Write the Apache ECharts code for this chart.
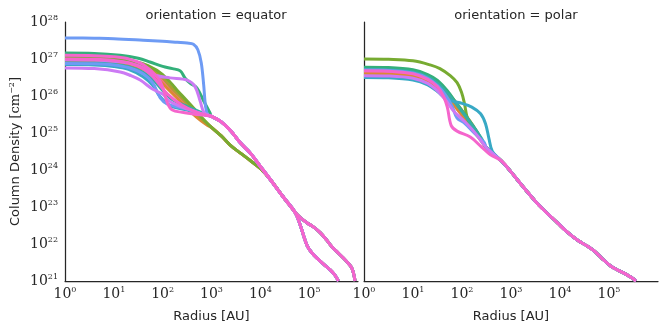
<!DOCTYPE html>
<html>
<head>
<meta charset="utf-8">
<script src="https://cdn.jsdelivr.net/npm/echarts@6/dist/echarts.min.js"></script>
<style>
  html, body { margin: 0; padding: 0; background: #fff; }
  #main { width: 665px; height: 334px; }
</style>
</head>
<body>
<div id="main"></div>
<script>
// husl palette, 10 hues
var palette = ['#f77189', '#dc8932', '#ae9d31', '#77ab31', '#33b07a', '#36ada4', '#38a9c5', '#6e9bf4', '#cc7af4', '#f565cc'];

// all points as [log10 radius, log10 column density]
// orientation = equator
var equatorColors = [0, 1, 2, 3, 4, 5, 6, 7, 7, 8, 8, 9, 9];
var equatorMid = ['low', 'low', 'low', 'low', 'high', 'high', 'high', 'high', 'high', 'high', 'high', 'high', 'high'];
var equatorBranch = ['up', 'low', 'up', 'low', 'up', 'up', 'low', 'low', 'low', 'low', 'up', 'low', 'up'];
var equatorHeads = [
  [[0, 27.0], [0.6, 26.99], [1.0, 26.96], [1.3, 26.91], [1.6, 26.8], [1.8, 26.64], [2.0, 26.4], [2.3, 26.0], [2.6, 25.6], [2.85, 25.32]],
  [[0, 26.95], [0.6, 26.94], [1.0, 26.91], [1.3, 26.85], [1.6, 26.72], [1.8, 26.56], [2.1, 26.2], [2.4, 25.8], [2.7, 25.42], [2.9, 25.22]],
  [[0, 27.02], [0.6, 27.01], [1.0, 26.98], [1.3, 26.93], [1.6, 26.84], [1.9, 26.62], [2.2, 26.2], [2.5, 25.8], [2.8, 25.38]],
  [[0, 27.05], [0.6, 27.04], [1.0, 27.01], [1.4, 26.94], [1.7, 26.82], [2.0, 26.58], [2.3, 26.15], [2.6, 25.72], [2.85, 25.35]],
  [[0, 27.16], [0.6, 27.15], [1.13, 27.1], [1.5, 27.02], [1.74, 26.92], [2.0, 26.8], [2.2, 26.74], [2.36, 26.68], [2.46, 26.48], [2.56, 26.35], [2.7, 26.22], [2.83, 25.89], [2.97, 25.54]],
  [[0, 26.9], [0.6, 26.89], [1.0, 26.86], [1.3, 26.79], [1.6, 26.64], [1.8, 26.45], [2.0, 26.15], [2.2, 25.9], [2.5, 25.72], [2.8, 25.55]],
  [[0, 26.85], [0.6, 26.84], [1.0, 26.8], [1.3, 26.72], [1.6, 26.52], [1.8, 26.28], [1.95, 25.98], [2.15, 25.74], [2.5, 25.62], [2.85, 25.5]],
  [[0, 27.57], [0.6, 27.56], [1.0, 27.55], [1.6, 27.51], [2.0, 27.48], [2.3, 27.45], [2.5, 27.43], [2.63, 27.4], [2.72, 27.25], [2.79, 26.9], [2.84, 26.3], [2.88, 25.7], [2.93, 25.48]],
  [[0, 26.88], [0.6, 26.87], [1.0, 26.84], [1.3, 26.77], [1.6, 26.6], [1.8, 26.35], [1.95, 25.95], [2.1, 25.78], [2.5, 25.65], [2.85, 25.5]],
  [[0, 26.76], [0.6, 26.74], [1.13, 26.65], [1.35, 26.55], [1.54, 26.43], [1.8, 26.18], [2.0, 26.05], [2.15, 25.85], [2.5, 25.65], [2.85, 25.5]],
  [[0, 26.98], [0.6, 26.97], [1.0, 26.94], [1.3, 26.89], [1.6, 26.76], [1.85, 26.56], [2.15, 26.49], [2.5, 26.43], [2.66, 26.26], [2.77, 25.85], [2.85, 25.55]],
  [[0, 27.1], [0.6, 27.09], [1.0, 27.06], [1.3, 27.0], [1.6, 26.85], [1.89, 26.51], [2.0, 26.24], [2.1, 25.8], [2.2, 25.62], [2.4, 25.56], [2.7, 25.5], [2.9, 25.47]],
  [[0, 27.0], [0.6, 26.99], [1.0, 26.96], [1.3, 26.9], [1.6, 26.74], [1.8, 26.52], [2.1, 26.05], [2.4, 25.75], [2.7, 25.56], [2.9, 25.48]]
];
var equatorTailHigh = [[3.0, 25.45], [3.2, 25.3], [3.4, 25.05], [3.6, 24.72], [3.8, 24.45], [4.0, 24.1]];
var equatorTailLow = [[3.0, 25.15], [3.2, 24.92], [3.4, 24.65], [3.6, 24.45], [3.8, 24.25], [4.0, 24.04]];
var equatorTail = [[4.2, 23.75], [4.47, 23.27], [4.71, 22.86]];
var equatorUpper = [[4.83, 22.7], [4.96, 22.57], [5.1, 22.45], [5.23, 22.3], [5.35, 22.12], [5.47, 21.92], [5.6, 21.75], [5.7, 21.62], [5.8, 21.48], [5.88, 21.33], [5.94, 21.0]];
var equatorLower = [[4.82, 22.5], [4.88, 22.25], [4.96, 21.95], [5.05, 21.77], [5.16, 21.62], [5.3, 21.45], [5.43, 21.3], [5.52, 21.17], [5.6, 21.0]];

// orientation = polar
var polarColors = [0, 1, 2, 3, 4, 5, 6, 7, 8, 9];
var polarHeads = [
  [[0, 26.65], [0.5, 26.64], [1.0, 26.58], [1.3, 26.45], [1.5, 26.28], [1.7, 26.02], [1.9, 25.65], [2.1, 25.28], [2.3, 24.95]],
  [[0, 26.6], [0.5, 26.59], [1.0, 26.53], [1.3, 26.4], [1.5, 26.22], [1.7, 25.96], [1.9, 25.65], [2.1, 25.35], [2.3, 25.0]],
  [[0, 26.7], [0.5, 26.69], [1.0, 26.63], [1.3, 26.5], [1.5, 26.34], [1.7, 26.1], [1.95, 25.7], [2.2, 25.25], [2.4, 24.8]],
  [[0, 27.0], [0.5, 26.99], [1.0, 26.95], [1.35, 26.84], [1.55, 26.74], [1.76, 26.55], [1.9, 26.36], [1.99, 26.1], [2.05, 25.8], [2.1, 25.45], [2.2, 25.1], [2.4, 24.8]],
  [[0, 26.78], [0.5, 26.77], [1.0, 26.71], [1.3, 26.58], [1.5, 26.42], [1.7, 26.14], [1.9, 25.78], [2.1, 25.42], [2.3, 25.05]],
  [[0, 26.72], [0.5, 26.71], [1.0, 26.65], [1.3, 26.52], [1.5, 26.35], [1.7, 26.08], [2.0, 25.58], [2.2, 25.22], [2.4, 24.85]],
  [[0, 26.5], [0.5, 26.49], [1.0, 26.43], [1.3, 26.3], [1.5, 26.12], [1.65, 25.95], [1.8, 25.86], [2.0, 25.8], [2.2, 25.7], [2.38, 25.52], [2.48, 25.25], [2.55, 24.85], [2.62, 24.5]],
  [[0, 26.7], [0.5, 26.69], [1.0, 26.62], [1.3, 26.48], [1.5, 26.28], [1.65, 26.05], [1.8, 25.72], [1.9, 25.4], [2.05, 25.27], [2.25, 25.0], [2.45, 24.75]],
  [[0, 26.55], [0.5, 26.54], [1.0, 26.48], [1.3, 26.34], [1.5, 26.14], [1.65, 25.92], [1.85, 25.56], [2.1, 25.25], [2.3, 24.95]],
  [[0, 26.68], [0.5, 26.67], [1.0, 26.6], [1.3, 26.45], [1.5, 26.25], [1.62, 26.0], [1.7, 25.7], [1.78, 25.2], [1.9, 25.05], [2.17, 24.89], [2.4, 24.62], [2.58, 24.41]]
];
var polarTail = [[2.5, 24.6], [2.8, 24.25], [3.0, 23.95], [3.2, 23.62], [3.34, 23.4], [3.5, 23.15], [3.67, 22.92], [3.95, 22.57], [4.15, 22.32], [4.36, 22.1], [4.55, 21.95], [4.69, 21.82], [4.85, 21.62], [5.04, 21.4], [5.2, 21.28], [5.35, 21.18], [5.45, 21.1], [5.55, 21.0]];

function joinLine(head, tail) {
  var last = head[head.length - 1][0];
  return head.concat(tail.filter(function (p) { return p[0] > last; }))
    .map(function (p) { return [Math.pow(10, p[0]), Math.pow(10, p[1])]; });
}

var series = [];
equatorHeads.forEach(function (head, i) {
  var mid = equatorMid[i] === 'high' ? equatorTailHigh : equatorTailLow;
  var tail = mid.concat(equatorTail, equatorBranch[i] === 'up' ? equatorUpper : equatorLower);
  series.push({
    type: 'line', xAxisIndex: 0, yAxisIndex: 0,
    data: joinLine(head, tail),
    showSymbol: false, smooth: 0.35,
    lineStyle: { width: 3, color: palette[equatorColors[i]] }
  });
});
polarHeads.forEach(function (head, i) {
  series.push({
    type: 'line', xAxisIndex: 1, yAxisIndex: 1,
    data: joinLine(head, polarTail),
    showSymbol: false, smooth: 0.35,
    lineStyle: { width: 3, color: palette[polarColors[i]] }
  });
});

var ink = '#262626';
var powRich = {
  b: { fontFamily: 'DejaVu Serif', fontSize: 14, color: ink },
  s: { fontFamily: 'DejaVu Serif', fontSize: 8, color: ink, padding: [0, 0, 8, 0] }
};
function powLabel(v) {
  var e = Math.round(Math.log10(v));
  return '{b|10}{s|' + e + '}';
}
function xLabel(v) {
  var e = Math.round(Math.log10(v));
  if (e > 5) return '';
  return powLabel(v);
}

function xAxis(idx) {
  return {
    type: 'log', logBase: 10, min: 1, max: 1e6, gridIndex: idx,
    name: 'Radius [AU]', nameLocation: 'middle', nameGap: 29,
    nameTextStyle: { fontFamily: 'DejaVu Sans', fontSize: 13, color: ink },
    axisLine: { show: true, lineStyle: { color: ink, width: 1.25 } },
    axisTick: { show: false }, splitLine: { show: false }, minorTick: { show: false },
    axisLabel: { formatter: xLabel, rich: powRich, margin: 5, showMaxLabel: false }
  };
}

var chart = echarts.init(document.getElementById('main'));
chart.setOption({
  animation: false,
  backgroundColor: '#fff',
  title: [
    { text: 'orientation = equator', left: 211, top: 4, textAlign: 'center',
      textStyle: { fontFamily: 'DejaVu Sans', fontSize: 13, fontWeight: 'normal', color: ink } },
    { text: 'orientation = polar', left: 511, top: 4, textAlign: 'center',
      textStyle: { fontFamily: 'DejaVu Sans', fontSize: 13, fontWeight: 'normal', color: ink } }
  ],
  grid: [
    { left: 65, top: 22, width: 293, height: 259 },
    { left: 364, top: 22, width: 294, height: 259 }
  ],
  xAxis: [xAxis(0), xAxis(1)],
  yAxis: [
    {
      type: 'log', logBase: 10, min: 1e21, max: 1e28, gridIndex: 0,
      name: 'Column Density {m|[cm}{s|−2}{m|]}', nameLocation: 'middle', nameGap: 41,
      nameTextStyle: {
        fontFamily: 'DejaVu Sans', fontSize: 13, color: ink,
        rich: {
          m: { fontFamily: 'DejaVu Serif', fontSize: 13, color: ink },
          s: { fontFamily: 'DejaVu Serif', fontSize: 8, color: ink, padding: [0, 0, 8, 0] }
        }
      },
      axisLine: { show: true, lineStyle: { color: ink, width: 1.25 } },
      axisTick: { show: false }, splitLine: { show: false },
      axisLabel: { formatter: powLabel, rich: powRich, margin: 7, align: 'right' }
    },
    {
      type: 'log', logBase: 10, min: 1e21, max: 1e28, gridIndex: 1,
      axisLine: { show: true, lineStyle: { color: ink, width: 1.25 } },
      axisTick: { show: false }, splitLine: { show: false },
      axisLabel: { show: false }
    }
  ],
  series: series
});
</script>
</body>
</html>
